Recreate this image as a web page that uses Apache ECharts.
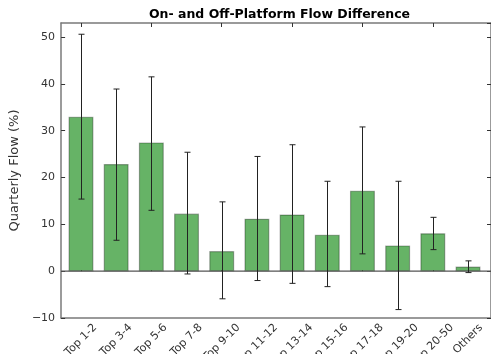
<!DOCTYPE html>
<html>
<head>
<meta charset="utf-8">
<script src="https://cdn.jsdelivr.net/npm/echarts@6/dist/echarts.min.js"></script>
<style>
  html, body { margin: 0; padding: 0; background: #fff; }
  #chart { width: 491px; height: 354px; }
</style>
</head>
<body>
<div id="chart"></div>
<script>
// Category labels along the x axis
const categories = ['Top 1-2', 'Top 3-4', 'Top 5-6', 'Top 7-8', 'Top 9-10', 'Top 11-12',
  'Top 13-14', 'Top 15-16', 'Top 17-18', 'Top 19-20', 'Top 20-50', 'Others'];
// Mean quarterly flow difference (%)
const flowValues = [33.0, 22.9, 27.5, 12.3, 4.3, 11.2, 12.1, 7.8, 17.2, 5.5, 8.1, 1.0];
// Error bar extents (%)
const errLow = [15.4, 6.6, 13.0, -0.6, -5.9, -2.0, -2.6, -3.3, 3.7, -8.2, 4.6, -0.3];
const errHigh = [50.6, 38.9, 41.5, 25.4, 14.8, 24.5, 27.0, 19.2, 30.8, 19.2, 11.5, 2.2];
// Y axis range and tick step
const yMin = -10, yMax = 53, yStep = 10;

const FONT = 'DejaVu Sans';
const SPINE = '#7a7a7a';
const TEXT = '#333';

// Frame grid spans the full axes box; the category grid is inset so that
// category centres fall where the bar positions sit inside the padded x range.
const frameLeft = 56, frameRight = 493, frameTop = 23, frameBottom = 318;
const pad = 0.71; // x padding, in category units, on each side
const unit = (frameRight - frameLeft) / (categories.length - 1 + 2 * pad);
const catLeft = frameLeft + (pad - 0.5) * unit;
const catWidth = unit * categories.length;

const measureCtx = document.createElement('canvas').getContext('2d');
measureCtx.font = '11px ' + FONT;

const chart = echarts.init(document.getElementById('chart'), null, { renderer: 'canvas' });

const option = {
  animation: false,
  backgroundColor: '#fff',
  title: {
    text: 'On- and Off-Platform Flow Difference',
    left: (frameLeft + frameRight) / 2,
    textAlign: 'center',
    top: 3,
    textStyle: { fontFamily: FONT, fontWeight: 'bold', fontSize: 12.5, color: '#000' }
  },
  grid: [
    { left: frameLeft, top: frameTop, width: frameRight - frameLeft, height: frameBottom - frameTop },
    { left: catLeft, top: frameTop, width: catWidth, height: frameBottom - frameTop }
  ],
  xAxis: [
    { type: 'value', gridIndex: 0, position: 'bottom', min: 0, max: 1,
      axisLine: { show: true, onZero: false, lineStyle: { color: SPINE, width: 1.5 } },
      axisTick: { show: false }, axisLabel: { show: false }, splitLine: { show: false } },
    { type: 'value', gridIndex: 0, position: 'top', min: 0, max: 1,
      axisLine: { show: true, onZero: false, lineStyle: { color: SPINE, width: 1.5 } },
      axisTick: { show: false }, axisLabel: { show: false }, splitLine: { show: false } },
    { type: 'category', gridIndex: 1, position: 'bottom', data: categories, boundaryGap: true,
      axisLine: { show: false },
      axisTick: { show: true, inside: true, length: 4, alignWithLabel: true, lineStyle: { color: '#333' } },
      axisLabel: { show: false }, splitLine: { show: false } },
    { type: 'category', gridIndex: 1, position: 'top', data: categories, boundaryGap: true,
      axisLine: { show: false },
      axisTick: { show: true, inside: true, length: 4, alignWithLabel: true, lineStyle: { color: '#333' } },
      axisLabel: { show: false }, splitLine: { show: false } }
  ],
  yAxis: [
    { type: 'value', gridIndex: 0, position: 'left', min: yMin, max: yMax, interval: yStep,
      name: 'Quarterly Flow (%)', nameLocation: 'middle', nameGap: 31, nameRotate: 90,
      nameTextStyle: { fontFamily: FONT, fontSize: 13, color: TEXT },
      axisLine: { show: true, onZero: false, lineStyle: { color: SPINE, width: 1.5 } },
      axisTick: { show: true, inside: true, length: 4, lineStyle: { color: '#333' } },
      axisLabel: { fontFamily: FONT, fontSize: 11, color: TEXT, margin: 6, showMaxLabel: false,
        formatter: v => (v < 0 ? '\u2212' + Math.abs(v) : String(v)) },
      splitLine: { show: false } },
    { type: 'value', gridIndex: 0, position: 'right', min: yMin, max: yMax, interval: yStep,
      axisLine: { show: true, onZero: false, lineStyle: { color: SPINE, width: 1.5 } },
      axisTick: { show: true, inside: true, length: 4, lineStyle: { color: '#333' } },
      axisLabel: { show: false }, splitLine: { show: false } },
    { type: 'value', gridIndex: 1, min: yMin, max: yMax, interval: yStep, show: false }
  ],
  series: [
    // zero baseline across the full frame
    { type: 'line', xAxisIndex: 0, yAxisIndex: 0, data: [[0, 0], [1, 0]],
      symbol: 'none', silent: true, z: 1,
      lineStyle: { color: '#555', width: 1.2 } },
    { type: 'bar', xAxisIndex: 2, yAxisIndex: 2, data: flowValues, barWidth: 25, z: 2,
      itemStyle: { color: '#66b366', borderColor: 'rgba(0,0,0,0.3)', borderWidth: 1.2 } },
    // error bars
    { type: 'custom', xAxisIndex: 2, yAxisIndex: 2, z: 5,
      data: categories.map((c, i) => [i, errLow[i], errHigh[i]]),
      renderItem: function (params, api) {
        const lo = api.coord([api.value(0), api.value(1)]);
        const hi = api.coord([api.value(0), api.value(2)]);
        const x = Math.round(lo[0]) + 0.5;
        const cap = 3;
        const style = { stroke: '#222', lineWidth: 1 };
        return { type: 'group', children: [
          { type: 'line', shape: { x1: x, y1: lo[1], x2: x, y2: hi[1] }, style: style },
          { type: 'line', shape: { x1: x - cap, y1: lo[1], x2: x + cap, y2: lo[1] }, style: style },
          { type: 'line', shape: { x1: x - cap, y1: hi[1], x2: x + cap, y2: hi[1] }, style: style }
        ] };
      } },
    // rotated category labels, centred under each tick
    { type: 'custom', xAxisIndex: 2, yAxisIndex: 2, z: 6, clip: false, silent: true,
      data: categories.map((c, i) => [i, yMin]),
      renderItem: function (params, api) {
        const i = params.dataIndex;
        const p = api.coord([api.value(0), api.value(1)]);
        const w = measureCtx.measureText(categories[i]).width;
        const h = 11;
        const half = (w + h) * Math.SQRT1_2 / 2;
        return { type: 'text', x: p[0], y: p[1] + 4 + half, rotation: Math.PI / 4,
          style: { text: categories[i], align: 'center', verticalAlign: 'middle',
            font: '11px ' + FONT, fill: TEXT } };
      } }
  ]
};

chart.setOption(option);
</script>
</body>
</html>
